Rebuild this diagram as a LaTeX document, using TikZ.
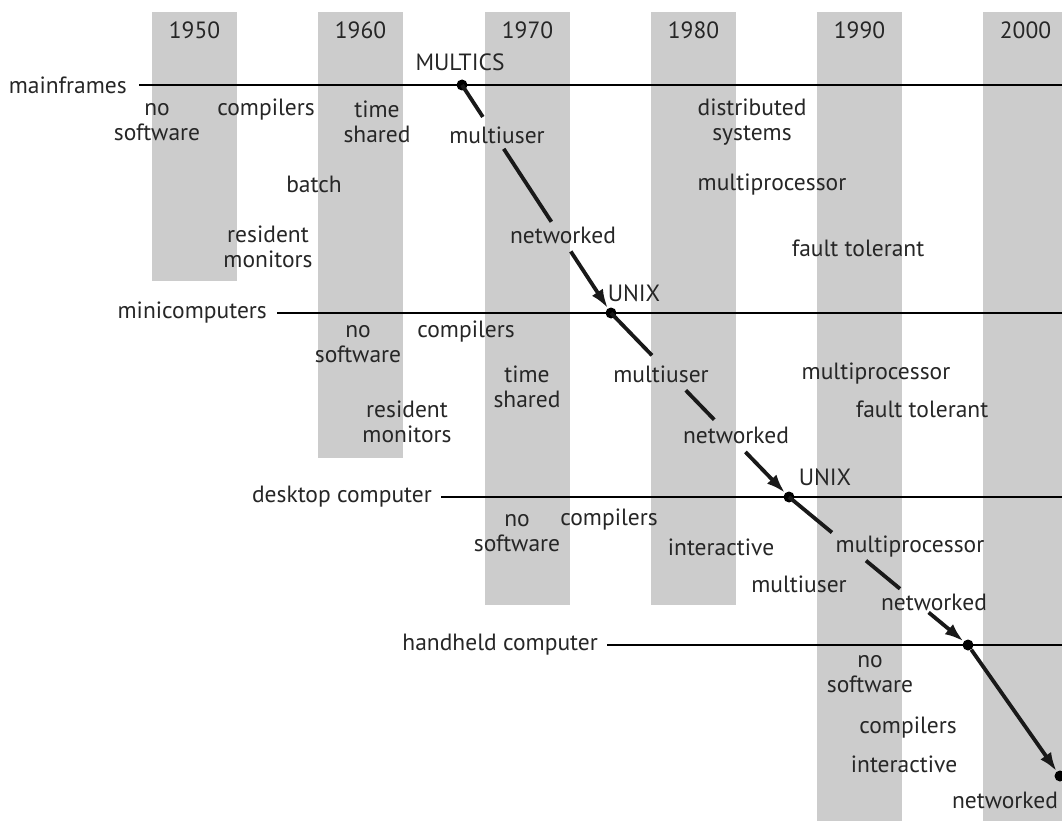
\documentclass[tikz,border=0pt]{standalone}
\usepackage{fontspec}
\setmainfont{PT Sans}
\usetikzlibrary{arrows.meta}
\usetikzlibrary{calc}

\begin{document}
\begin{tikzpicture}[x=1pt,y=-1pt,
    bar/.style={fill=black!20},
    lbl/.style={font=\fontsize{23.5}{25}\selectfont, text=black!85, inner sep=3pt, align=center},
    rowlabel/.style={lbl, anchor=east, inner sep=0pt},
    hline/.style={line width=1.8pt},
    dot/.style={circle, fill=black, inner sep=0pt, minimum size=11pt},
    link/.style={line width=3.8pt, black!90},
    tip/.style={link, -{Latex[length=19pt,width=13pt]}}]
  \clip (0,0) rectangle (1062,821);
  \fill[white] (0,0) rectangle (1062,821);
  % decades
  \foreach \x/\yr/\bot in {152/1950/281, 318/1960/458, 485/1970/605, 651/1980/605, 817/1990/821, 983/2000/821}
    {
      \fill[bar] (\x,12) rectangle (\x+85,\bot);
      \node[lbl] (y\yr) at (\x+42.5,30) {\yr};
    }

  % mainframes
  \node[rowlabel] (mainframes) at (127,85) {mainframes};
  \coordinate (mfend) at (1062,85);
  \draw[hline] ([xshift=12pt]mainframes.east) -- (mfend);
  \node[lbl] (multicslbl) at (460,62) {MULTICS};
  \node[lbl] (mfnosw) at (157,122) {no\\software};
  \node[lbl] (mfcomp) at (266,110) {compilers};
  \node[lbl] (mftime) at (377,122) {time\\shared};
  \node[lbl] (mu1) at (497,135) {multiuser};
  \node[lbl] (mfbatch) at (314,184) {batch};
  \node[lbl] (mfres) at (268,247) {resident\\monitors};
  \node[lbl] (nw1) at (563,235) {networked};
  \node[lbl] (mfdist) at (752,122) {distributed\\systems};
  \node[lbl] (mfmp) at (772,185) {multiprocessor};
  \node[lbl] (mfft) at (858,248) {fault tolerant};

  % minicomputers
  \node[rowlabel] (minis) at (267,313) {minicomputers};
  \coordinate (miend) at (1062,313);
  \draw[hline] ([xshift=10pt]minis.east) -- (miend);
  \node[lbl] (unixlbl1) at (634,293) {UNIX};
  \node[lbl] (minosw) at (358,344) {no\\software};
  \node[lbl] (micomp) at (466,332) {compilers};
  \node[lbl] (mitime) at (527,387) {time\\shared};
  \node[lbl] (mu2) at (661,374) {multiuser};
  \node[lbl] (mires) at (407,422) {resident\\monitors};
  \node[lbl] (nw2) at (736,435) {networked};
  \node[lbl] (mimp) at (876,374) {multiprocessor};
  \node[lbl] (mift) at (922,409) {fault tolerant};

  % desktop computer
  \node[rowlabel] (desktop) at (432,497) {desktop computer};
  \coordinate (dtend) at (1062,497);
  \draw[hline] ([xshift=9pt]desktop.east) -- (dtend);
  \node[lbl] (unixlbl2) at (825,477) {UNIX};
  \node[lbl] (dtnosw) at (517,533) {no\\software};
  \node[lbl] (dtcomp) at (609,520) {compilers};
  \node[lbl] (dtinter) at (721,547) {interactive};
  \node[lbl] (mp3) at (910,547) {multiprocessor};
  \node[lbl] (dtmu) at (799,584) {multiuser};
  \node[lbl] (nw3) at (934,602) {networked};

  % handheld computer
  \node[rowlabel] (handheld) at (598,645) {handheld computer};
  \coordinate (hhend) at (1062,645);
  \draw[hline] ([xshift=9pt]handheld.east) -- (hhend);
  \node[lbl] (hhnosw) at (870,674) {no\\software};
  \node[lbl] (hhcomp) at (908,728) {compilers};
  \node[lbl] (hhinter) at (904,764) {interactive};
  \node[lbl] (hhnw) at (1005,800) {networked};

  % systems moving down, broken where the labels sit
  \node[dot] (multics) at (462,85) {};
  \node[dot] (unix1) at (611,313) {};
  \node[dot] (unix2) at (789,497) {};
  \node[dot] (hhdot) at (968,645) {};
  \node[dot] (lastdot) at (1060,776) {};
  \draw[link] (multics.center) -- ($(multics)!0.14!(unix1)$);
  \draw[link] ($(multics)!0.28!(unix1)$) -- ($(multics)!0.60!(unix1)$);
  \draw[tip] ($(multics)!0.73!(unix1)$) -- (unix1);
  \draw[link] (unix1.center) -- ($(unix1)!0.23!(unix2)$);
  \draw[link] ($(unix1)!0.42!(unix2)$) -- ($(unix1)!0.58!(unix2)$);
  \draw[tip] ($(unix1)!0.755!(unix2)$) -- (unix2);
  \draw[link] (unix2.center) -- ($(unix2)!0.24!(hhdot)$);
  \draw[link] ($(unix2)!0.43!(hhdot)$) -- ($(unix2)!0.62!(hhdot)$);
  \draw[tip] ($(unix2)!0.78!(hhdot)$) -- (hhdot);
  \draw[tip] (hhdot) -- (lastdot);
\end{tikzpicture}
\end{document}
